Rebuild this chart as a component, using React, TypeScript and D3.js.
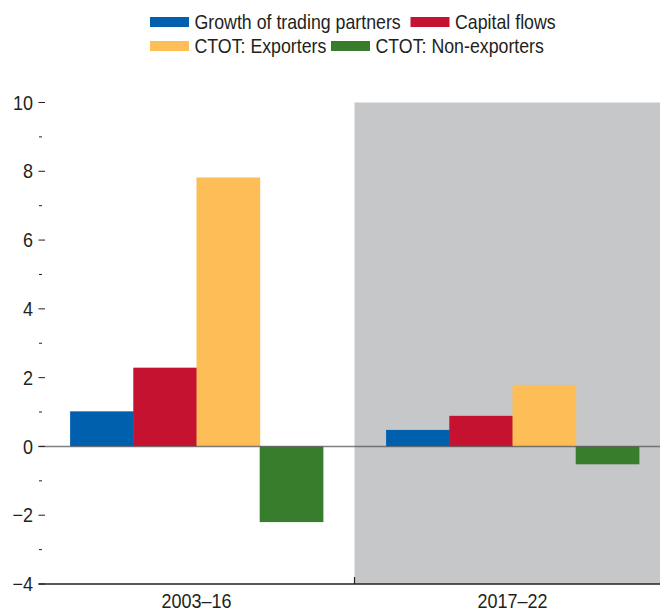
import * as React from 'react';
import {scaleBand, scaleLinear, range as d3Range} from 'd3';

// Chart data
const periods = ['2003–16', '2017–22'];
const seriesNames = ['Growth of trading partners', 'Capital flows', 'CTOT: Exporters', 'CTOT: Non-exporters'];
const seriesColors = ['#0060ae', '#c41230', '#fdbd57', '#387d2c'];
const growthOfPartners = [1.02, 0.48];
const capitalFlows = [2.29, 0.89];
const ctotExporters = [7.82, 1.79];
const ctotNonExporters = [-2.2, -0.52];
const majorTicks = [-4, -2, 0, 2, 4, 6, 8, 10];
const shadedPeriods = ['2017–22'];

const seriesValues = [growthOfPartners, capitalFlows, ctotExporters, ctotNonExporters];

// no condensed font installed, so squeeze Liberation Sans horizontally
const FONT = "'Liberation Sans', Arial, sans-serif";
const TEXT = '#231f20';

const width = 660;
const height = 611;
const plot = {left: 38.5, right: 670.5, top: 102.5, bottom: 584};

// legend layout: [x of swatch, row]
const legendPos: [number, number][] = [[150, 0], [410.5, 0], [150, 1], [331, 1]];

function Narrow(props: {x: number, y: number, k: number, size: number, anchor?: string, dy?: string, children: React.ReactNode}) {
  return (
    <text transform={`translate(${props.x},${props.y}) scale(${props.k},1)`} dy={props.dy}
      textAnchor={props.anchor || 'start'} fontSize={props.size} fill={TEXT}>
      {props.children}
    </text>
  );
}

export default function App() {
  const x = scaleBand<string>().domain(periods).range([plot.left, plot.right]).padding(0);
  const inner = scaleBand<number>().domain(d3Range(seriesNames.length))
    .range([0, x.bandwidth()]).paddingInner(0).paddingOuter(0.5);
  const y = scaleLinear().domain([-4, 10]).range([plot.bottom, plot.top]);
  const minorTicks = d3Range(-3, 10, 2);

  return (
    <svg width={width} height={height} style={{position: 'absolute', left: 0, top: 0, fontFamily: FONT}}>
      {/* shaded period */}
      {shadedPeriods.map((p) => (
        <rect key={p} x={x(p)} y={y(10)} width={x.bandwidth()} height={y(-4) - y(10)} fill="#c6c7c9" />
      ))}

      {/* bars */}
      {periods.map((p, pi) => (
        <g key={p} transform={`translate(${x(p)},0)`}>
          {seriesValues.map((vals, si) => {
            const v = vals[pi];
            return <rect key={si} x={inner(si)} width={inner.bandwidth() + 0.5}
              y={y(Math.max(0, v))} height={Math.abs(y(v) - y(0))} fill={seriesColors[si]} />;
          })}
        </g>
      ))}

      {/* zero line */}
      <line x1={plot.left} x2={width} y1={y(0)} y2={y(0)} stroke="#555" strokeOpacity={0.75} strokeWidth={1.6} />

      {/* y axis ticks */}
      {majorTicks.map((t) => (
        <g key={t}>
          <line x1={38.5} x2={45} y1={y(t)} y2={y(t)} stroke={TEXT} strokeWidth={1} />
          <Narrow x={33} y={y(t)} k={0.9} size={20} dy="0.36em" anchor="end">
            {t < 0 ? `−${Math.abs(t)}` : t}
          </Narrow>
        </g>
      ))}
      {minorTicks.map((t) => (
        <line key={t} x1={39} x2={42} y1={y(t)} y2={y(t)} stroke={TEXT} strokeWidth={1} />
      ))}

      {/* x axis */}
      <line x1={plot.left} x2={width} y1={plot.bottom} y2={plot.bottom} stroke={TEXT} strokeWidth={1.5} />
      {periods.slice(1).map((p) => (
        <line key={p} x1={x(p)} x2={x(p)} y1={plot.bottom} y2={plot.bottom - 7} stroke={TEXT} strokeWidth={1.2} />
      ))}
      {periods.map((p) => (
        <Narrow key={p} x={(x(p) as number) + x.bandwidth() / 2} y={608} k={0.9} size={20} anchor="middle">
          {p}
        </Narrow>
      ))}

      {/* legend */}
      {seriesNames.map((name, i) => {
        const [lx, row] = legendPos[i];
        const ly = 17 + row * 24;
        return (
          <g key={name}>
            <rect x={lx} y={ly} width={39} height={10} fill={seriesColors[i]} />
            <Narrow x={lx + 44.5} y={ly + 12} k={0.846} size={21}>{name}</Narrow>
          </g>
        );
      })}
    </svg>
  );
}
